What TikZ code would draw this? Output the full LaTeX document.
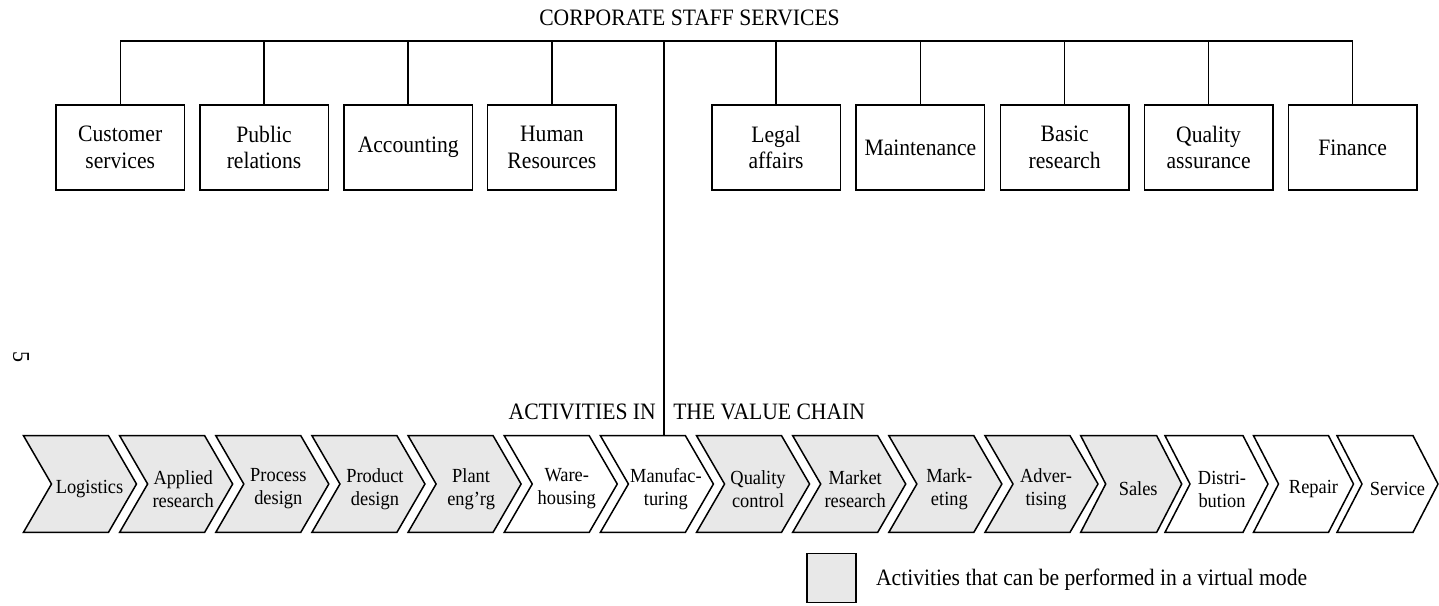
\documentclass[tikz,border=0pt]{standalone}
\usepackage{fontspec}
\setmainfont{Liberation Serif}[FakeStretch=0.92]
\definecolor{chevgray}{HTML}{E8E8E8}
\newcommand\chev[7]{%
  \draw[chevline, fill=#5] (#2,435.7) -- ++(#3,0) -- ++(#4,48.3) -- ++(-#4,48.3) -- ++(-#3,0) -- ++(#4,-48.3) -- cycle;
  \node[chevtext] (#1) at (#2+#6,489) {#7};%
}
\begin{document}
\begin{tikzpicture}[x=1pt,y=-1pt,line width=1.5pt,
  box/.style={draw, rectangle, minimum width=128.5pt, minimum height=85pt, align=center, inner sep=0pt, font=\fontsize{23.5}{26.5}\selectfont},
  chevline/.style={draw, line join=miter},
  chevtext/.style={align=center, inner sep=0pt, font=\fontsize{20}{23}\selectfont},
  lbl/.style={inner sep=0pt, font=\fontsize{23.5}{26.5}\selectfont}]
\useasboundingbox (0,0) rectangle (1439,605);

% title and bus
\node[lbl] (title) at (689.5,18) {CORPORATE STAFF SERVICES};
\coordinate (bus) at (664,41);

% staff boxes
\node[box] (cs)  at (120.25,147.5) {Customer\\services};
\node[box] (pr)  at (264.0,147.5)  {Public\\relations};
\node[box] (acc) at (408.2,147.5)  {Accounting};
\node[box] (hr)  at (551.9,147.5)  {Human\\Resources};
\node[box] (la)  at (776.0,147.5)  {Legal\\affairs};
\node[box] (mt)  at (920.4,147.5)  {Maintenance};
\node[box] (br)  at (1064.6,147.5) {Basic\\research};
\node[box] (qa)  at (1208.6,147.5) {Quality\\assurance};
\node[box] (fin) at (1352.6,147.5) {Finance};

\draw (cs.north |- bus) -- (fin.north |- bus);
\foreach \n in {cs,pr,acc,hr,la,mt,br,qa,fin}{
  \draw (\n.north |- bus) -- (\n.north);
}

% value chain
\chev{log}{23.5}{85}{28}{chevgray}{66}{Logistics}
\chev{app}{119.65}{85}{28}{chevgray}{63.5}{Applied\\research}
\chev{proc}{215.8}{85}{28}{chevgray}{62.5}{Process\\design}
\chev{prod}{311.95}{85}{28}{chevgray}{63}{Product\\design}
\chev{plant}{408.1}{85}{28}{chevgray}{63}{Plant\\eng'rg}
\chev{ware}{504.25}{85}{28}{white}{62.5}{Ware-\\housing}
\chev{manu}{600.4}{85}{28}{white}{65.5}{Manufac-\\turing}
\chev{qc}{696.55}{85}{28}{chevgray}{61.5}{Quality\\control}
\chev{mr}{792.7}{85}{28}{chevgray}{62.5}{Market\\research}
\chev{mkt}{888.85}{85}{28}{chevgray}{60.5}{Mark-\\eting}
\chev{adv}{985}{85}{28}{chevgray}{61}{Adver-\\tising}
\chev{sales}{1080.7}{76}{25}{chevgray}{57.5}{Sales}
\chev{dist}{1165}{78}{25}{white}{57}{Distri-\\bution}
\chev{rep}{1253.5}{75}{25}{white}{60}{Repair}
\chev{serv}{1337}{76}{25}{white}{60.5}{Service}

\coordinate (manutop) at (664,435.7);
\draw (bus) -- (manutop);

\node[lbl, anchor=east] (act1) at (656.5,412) {ACTIVITIES IN};
\node[lbl, anchor=west] (act2) at (672.5,412) {THE VALUE CHAIN};

% legend
\node[draw, fill=chevgray, minimum width=49pt, minimum height=49pt, inner sep=0pt] (legbox) at (831.5,578) {};
\node[lbl, anchor=west] (legtext) at (875.3,580) {Activities that can be performed in a virtual mode};

% page number
\node[inner sep=0pt, rotate=-90, font=\fontsize{24}{28}\selectfont] (pnum) at (21,357) {5};
\end{tikzpicture}
\end{document}
